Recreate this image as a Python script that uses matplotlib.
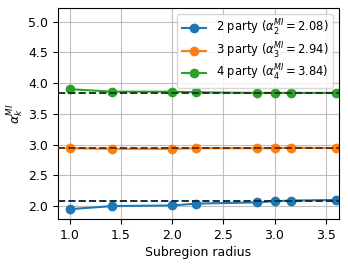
import matplotlib.pyplot as plt
import numpy as np

plt.rcParams['font.size'] = 9

radius = np.sqrt([1, 2, 4, 5, 8, 9, 10, 13])
alpha_2 = [1.95, 2.00, 2.01, 2.04, 2.06, 2.08, 2.09, 2.10]
alpha_3 = [2.94, 2.93, 2.93, 2.94, 2.94, 2.94, 2.95, 2.94]
alpha_4 = [3.90, 3.86, 3.86, 3.85, 3.84, 3.84, 3.84, 3.84]
alpha_mi = [2.08, 2.94, 3.84]
labels = ['2 party', '3 party', '4 party']

fig = plt.figure(figsize=(3.48, 2.66), dpi=100)
ax = fig.add_axes([58 / 348, 1 - 219 / 266, 281 / 348, 211 / 266])

colors = ['C0', 'C1', 'C2']
for k, (vals, a, lab, c) in enumerate(zip([alpha_2, alpha_3, alpha_4], alpha_mi, labels, colors)):
    ax.plot(radius, vals, 'o-', color=c, ms=6,
            label=r'%s ($\alpha_%d^{MI} = %.2f$)' % (lab, k + 2, a))
    dark = np.array(plt.matplotlib.colors.to_rgb(c)) * 0.4
    ax.axhline(a, color=dark, ls='--', lw=1.4, zorder=3)

ax.set_xlim(0.885, 3.63)
ax.set_ylim(1.79, 5.22)
ax.set_xticks([1.0, 1.5, 2.0, 2.5, 3.0, 3.5])
ax.set_yticks([2.0, 2.5, 3.0, 3.5, 4.0, 4.5, 5.0])
ax.grid(True, alpha=0.8)
ax.set_xlabel('Subregion radius', labelpad=3)
ax.set_ylabel(r'$\alpha_k^{MI}$', labelpad=2)
ax.legend(loc='upper right', fontsize=8.3, handlelength=2.1,
          labelspacing=0.2, handletextpad=0.9)

fig.savefig('out.png', dpi=100)
